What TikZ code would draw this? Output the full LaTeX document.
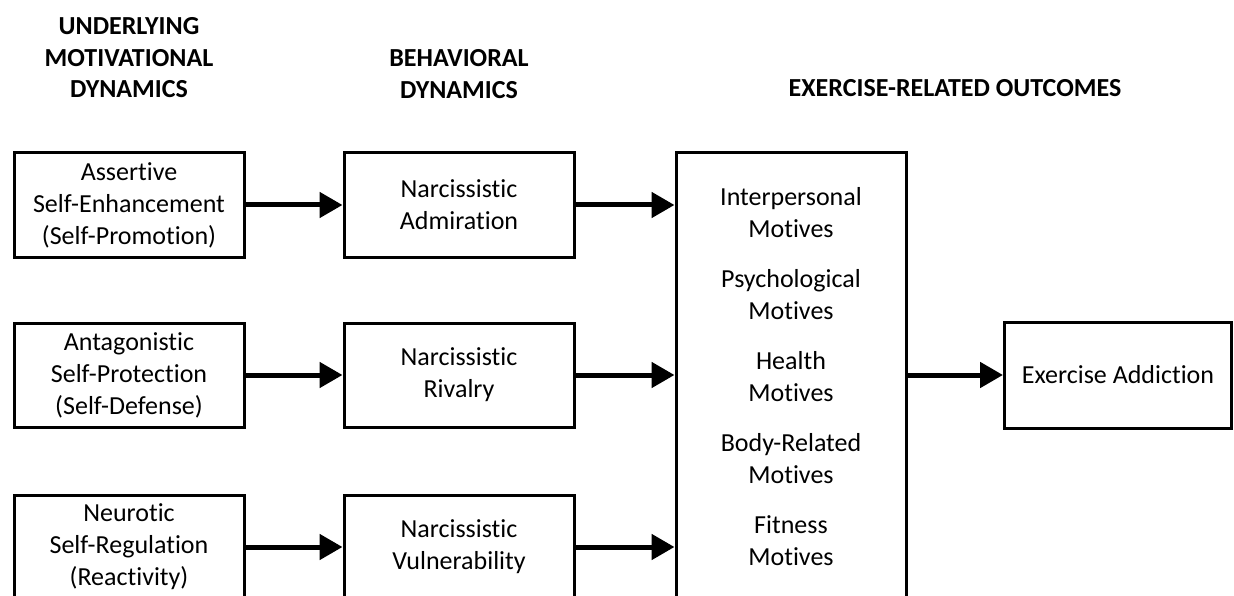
\documentclass[tikz,border=0pt]{standalone}
\usepackage{fontspec}
\setmainfont{Carlito}[Ligatures=NoCommon]
\usetikzlibrary{arrows.meta}
\begin{document}
\begin{tikzpicture}[x=1pt,y=-1pt,
  box/.style={draw, line width=3pt, minimum width=230pt, minimum height=104pt, align=center, inner sep=0pt, font=\fontsize{26}{32}\selectfont},
  head/.style={align=center, inner sep=0pt, font=\bfseries\fontsize{26}{31.5}\selectfont},
  conn/.style={line width=5pt, -{Triangle[length=23pt,width=25pt]}}]
\clip (0,0) rectangle (1234,596);
\fill[white] (0,0) rectangle (1234,596);
\node[head] (h1) at (129,58) {UNDERLYING\\MOTIVATIONAL\\DYNAMICS};
\node[head] (h2) at (459,74) {BEHAVIORAL\\DYNAMICS};
\node[head] (h3) at (955,88) {EXERCISE-RELATED OUTCOMES};
\node[box] (a1) at (129,205) {Assertive\\Self-Enhancement\\(Self-Promotion)};
\node[box] (a2) at (129,375) {Antagonistic\\Self-Protection\\(Self-Defense)};
\node[box] (a3) at (129,547) {Neurotic\\Self-Regulation\\(Reactivity)};
\node[box] (b1) at (459,205) {Narcissistic\\Admiration};
\node[box] (b2) at (459,375) {Narcissistic\\Rivalry};
\node[box] (b3) at (459,547) {Narcissistic\\Vulnerability};
\node[box, minimum height=448pt] (c) at (791,377) {Interpersonal\\Motives\\[18pt]Psychological\\Motives\\[18pt]Health\\Motives\\[18pt]Body-Related\\Motives\\[18pt]Fitness\\Motives};
\node[box, minimum width=227pt, minimum height=106pt] (d) at (1118,375) {Exercise Addiction};
\draw[conn] (a1) -- (b1);
\draw[conn] (a2) -- (b2);
\draw[conn] (a3) -- (b3);
\draw[conn] (b1.east) -- (b1.east -| c.west);
\draw[conn] (b2.east) -- (b2.east -| c.west);
\draw[conn] (b3.east) -- (b3.east -| c.west);
\draw[conn] (c.east |- d.west) -- (d.west);
\end{tikzpicture}
\end{document}
